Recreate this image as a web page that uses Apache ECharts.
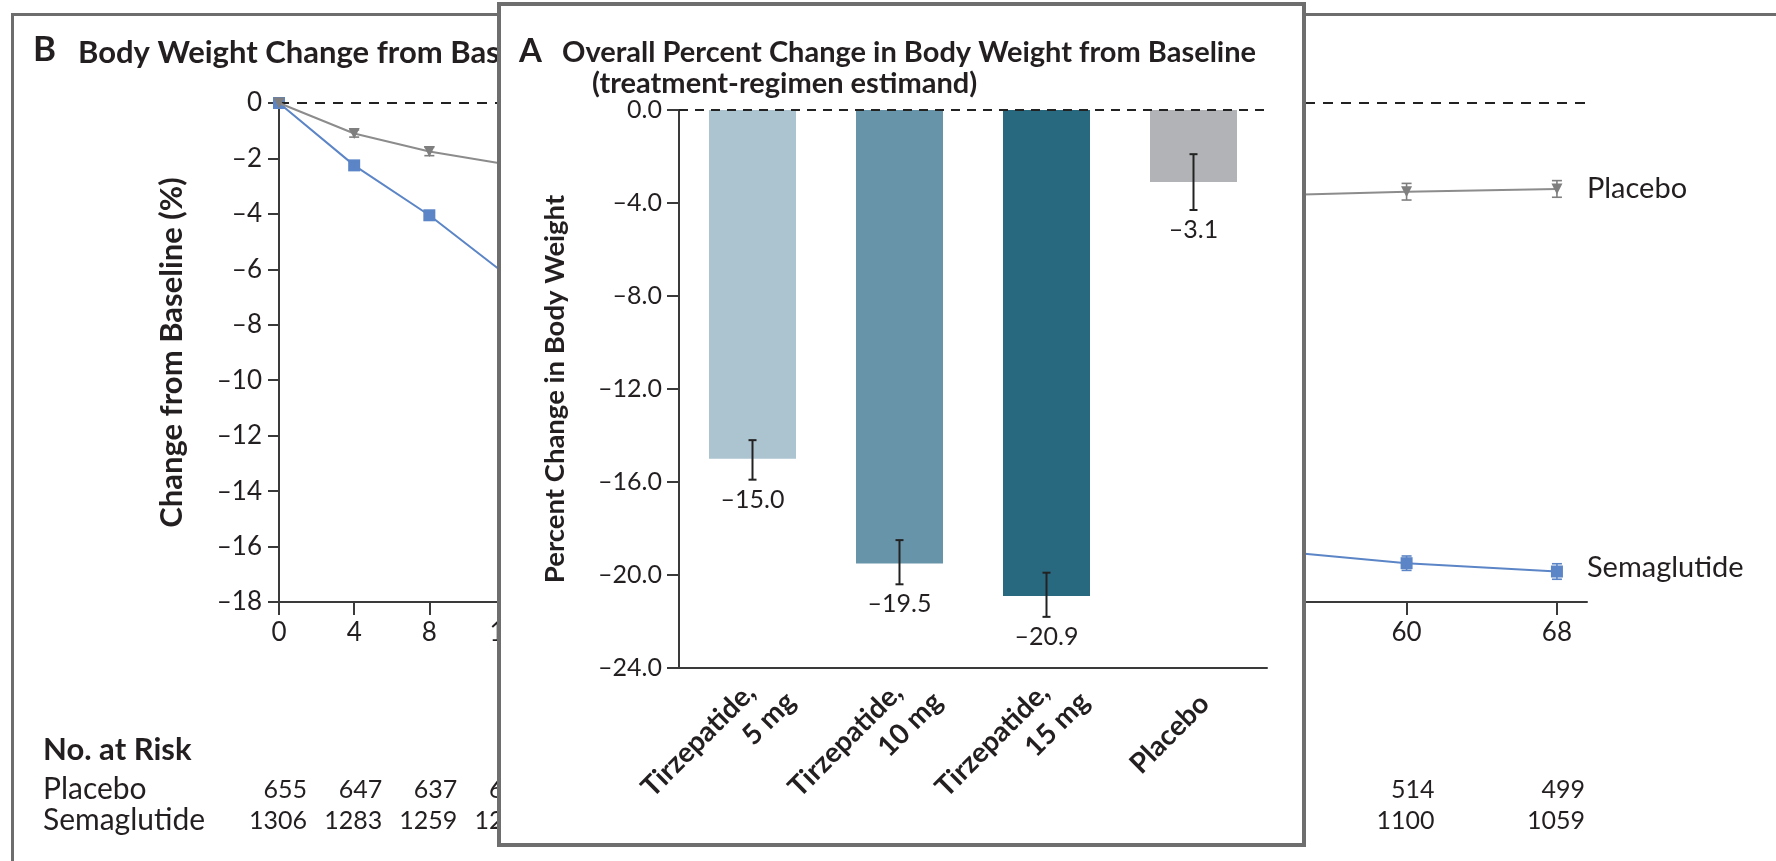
<!DOCTYPE html>
<html><head><meta charset="utf-8">
<script src="https://cdn.jsdelivr.net/npm/echarts@6/dist/echarts.min.js"></script>
<style>
html,body{margin:0;padding:0;width:1776px;height:861px;overflow:hidden;background:#fff;}
#frameB{position:absolute;left:11px;top:13px;width:2000px;height:2000px;border:3.5px solid #6d6d6d;box-sizing:border-box;}
#chartB{position:absolute;left:0;top:0;width:1776px;height:861px;}
#panelA{position:absolute;left:497px;top:2px;width:809px;height:845px;box-sizing:border-box;border:4px solid #6e6e6e;background:#fff;}
#chartA{position:absolute;left:0;top:0;width:801px;height:837px;}
</style></head><body>
<div id="frameB"></div>
<div id="chartB"></div>
<div id="panelA"><div id="chartA"></div></div>
<script>
// ---------- Panel B data ----------
const weeks = [0, 4, 8, 12, 16, 20, 28, 36, 44, 52, 60, 68];
const placeboMean = [0, -1.1, -1.75, -2.2, -2.6, -2.9, -3.15, -3.3, -3.4, -3.35, -3.2, -3.1];
const placeboErr = [0, 0.13, 0.15, 0.17, 0.19, 0.2, 0.22, 0.24, 0.26, 0.28, 0.3, 0.3];
const semaMean = [0, -2.25, -4.05, -6.15, -8.0, -9.6, -12.0, -13.9, -15.1, -16.1, -16.6, -16.9];
const semaErr = [0, 0.12, 0.13, 0.14, 0.15, 0.16, 0.18, 0.2, 0.22, 0.24, 0.26, 0.28];
const riskRows = ['Placebo', 'Semaglutide'];
const placeboRisk = [655, 647, 637, 629, 620, 611, 592, 573, 555, 536, 514, 499];
const semaRisk = [1306, 1283, 1259, 1240, 1222, 1205, 1179, 1156, 1137, 1119, 1100, 1059];

// ---------- Panel A data ----------
const groupLine1 = ['Tirzepatide,', 'Tirzepatide,', 'Tirzepatide,', 'Placebo'];
const groupLine2 = ['5 mg', '10 mg', '15 mg', ''];
const meanA = [-15.0, -19.5, -20.9, -3.1];
const ciLowA = [-15.9, -20.4, -21.8, -4.3];
const ciHighA = [-14.2, -18.5, -19.9, -1.9];

// ---------- styles ----------
const FONT = 'Lato';
const INK = '#231f20';
const AX = '#3a3a3a';
const barColors = ['#abc4d0', '#6894aa', '#286980', '#b2b3b6'];
const placeboColor = '#8c8c8c';
const semaColor = '#5b85c6';
const dash = (v) => (v < 0 ? '\u2013' + String(-v) : String(v));

// ================= Chart B =================
const chartB = echarts.init(document.getElementById('chartB'), null, {renderer: 'canvas'});

function errRender(color) {
  return function (params, api) {
    const w = api.value(0), m = api.value(1), e = api.value(2);
    if (!e) return null;
    const top = api.coord([w, m + e]);
    const bot = api.coord([w, m - e]);
    const st = {stroke: color, lineWidth: 1.6};
    return {type: 'group', children: [
      {type: 'line', shape: {x1: top[0], y1: top[1], x2: bot[0], y2: bot[1]}, style: st},
      {type: 'line', shape: {x1: top[0] - 5, y1: top[1], x2: top[0] + 5, y2: top[1]}, style: st},
      {type: 'line', shape: {x1: bot[0] - 5, y1: bot[1], x2: bot[0] + 5, y2: bot[1]}, style: st}
    ]};
  };
}

const riskData = [];
weeks.forEach((w, i) => {
  riskData.push([w, 0, placeboRisk[i]]);
  riskData.push([w, 1, semaRisk[i]]);
});

chartB.setOption({
  animation: false,
  textStyle: {fontFamily: FONT},
  graphic: [
    {type: 'text', x: 33, y: 50, style: {text: 'B', font: 'bold 35px Lato', fill: INK, verticalAlign: 'middle'}},
    {type: 'text', x: 78, y: 53, style: {text: 'Body Weight Change from Baseline', font: 'bold 31px Lato', fill: INK, verticalAlign: 'middle'}},
    {type: 'text', x: 43, y: 750, style: {text: 'No. at Risk', font: 'bold 31px Lato', fill: INK, verticalAlign: 'middle'}}
  ],
  grid: [
    {left: 279, top: 103, width: 1308, height: 499},
    {left: 279, top: 774, width: 1308, height: 62}
  ],
  xAxis: [
    {type: 'value', gridIndex: 0, min: 0, max: 69.6, splitLine: {show: false},
     axisLine: {onZero: false, lineStyle: {color: AX, width: 2}},
     axisTick: {show: true, length: 13, lineStyle: {color: AX, width: 2}, customValues: weeks},
     axisLabel: {customValues: weeks, fontSize: 26, color: INK, margin: 18, fontFamily: FONT}},
    {type: 'value', gridIndex: 1, min: 0, max: 69.6, show: false}
  ],
  yAxis: [
    {type: 'value', gridIndex: 0, min: -18, max: 0, interval: 2, splitLine: {show: false},
     name: 'Change from Baseline (%)', nameLocation: 'middle', nameGap: 92,
     nameTextStyle: {fontSize: 31, fontWeight: 'bold', color: INK, fontFamily: FONT},
     axisLine: {show: true, onZero: false, lineStyle: {color: AX, width: 2}},
     axisTick: {show: true, length: 11, lineStyle: {color: AX, width: 2}},
     axisLabel: {formatter: dash, margin: 17, fontSize: 26, color: INK, fontFamily: FONT}},
    {type: 'category', gridIndex: 1, data: riskRows, inverse: true,
     axisLine: {show: false}, axisTick: {show: false},
     axisLabel: {interval: 0, align: 'left', margin: 236, fontSize: 30, color: INK, fontFamily: FONT}}
  ],
  series: [
    {type: 'line', name: 'Semaglutide', xAxisIndex: 0, yAxisIndex: 0,
     data: weeks.map((w, i) => [w, semaMean[i]]),
     symbol: 'rect', symbolSize: 12, lineStyle: {color: semaColor, width: 2},
     itemStyle: {color: semaColor}, z: 3,
     endLabel: {show: true, formatter: 'Semaglutide', distance: 30, color: INK, fontSize: 29, fontFamily: FONT, offset: [0, -4]}},
    {type: 'custom', xAxisIndex: 0, yAxisIndex: 0, data: weeks.map((w, i) => [w, semaMean[i], semaErr[i]]),
     renderItem: errRender(semaColor), z: 4, clip: false},
    {type: 'line', name: 'Placebo', xAxisIndex: 0, yAxisIndex: 0,
     data: weeks.map((w, i) => [w, placeboMean[i]]),
     symbol: 'triangle', symbolRotate: 180, symbolSize: 11, lineStyle: {color: placeboColor, width: 2},
     itemStyle: {color: '#7f7f7f'}, z: 5,
     endLabel: {show: true, formatter: 'Placebo', distance: 30, color: INK, fontSize: 29, fontFamily: FONT},
     markLine: {silent: true, symbol: ['none', 'none'], label: {show: false},
       lineStyle: {type: [10, 8], color: '#222', width: 2}, data: [{yAxis: 0}]}},
    {type: 'custom', xAxisIndex: 0, yAxisIndex: 0, data: weeks.map((w, i) => [w, placeboMean[i], placeboErr[i]]),
     renderItem: errRender('#7f7f7f'), z: 6, clip: false},
    {type: 'custom', xAxisIndex: 1, yAxisIndex: 1, data: riskData, clip: false,
     renderItem: function (params, api) {
       const p = api.coord([api.value(0), api.value(1)]);
       return {type: 'text', x: p[0] + 28, y: p[1],
         style: {text: String(api.value(2)), font: '25px Lato', fill: INK, align: 'right', verticalAlign: 'middle'}};
     }}
  ]
});

// ================= Chart A =================
const chartA = echarts.init(document.getElementById('chartA'), null, {renderer: 'canvas'});
const catIdx = meanA.map((v, i) => i);

chartA.setOption({
  animation: false,
  textStyle: {fontFamily: FONT},
  graphic: [
    {type: 'text', x: 18, y: 45, style: {text: 'A', font: 'bold 33px Lato', fill: INK, verticalAlign: 'middle'}},
    {type: 'text', x: 61, y: 47, style: {text: 'Overall Percent Change in Body Weight from Baseline', font: 'bold 29px Lato', fill: INK, verticalAlign: 'middle'}},
    {type: 'text', x: 91, y: 78, style: {text: '(treatment-regimen estimand)', font: 'bold 29px Lato', fill: INK, verticalAlign: 'middle'}}
  ],
  grid: {left: 178, top: 104, width: 588, height: 558},
  xAxis: {type: 'category', data: groupLine1.map((t, i) => t + ' ' + groupLine2[i]),
    axisLine: {onZero: false, lineStyle: {color: AX, width: 2}}, axisTick: {show: false}, axisLabel: {show: false}},
  yAxis: {type: 'value', min: -24, max: 0, interval: 4, splitLine: {show: false},
    name: 'Percent Change in Body Weight', nameLocation: 'middle', nameGap: 110,
    nameTextStyle: {fontSize: 27.5, fontWeight: 'bold', color: INK, fontFamily: FONT},
    axisLine: {show: true, lineStyle: {color: AX, width: 2}},
    axisTick: {show: true, length: 12, lineStyle: {color: AX, width: 2}},
    axisLabel: {formatter: (v) => (v < 0 ? '\u2013' + (-v).toFixed(1) : '0.0'), margin: 17, fontSize: 25, color: INK, fontFamily: FONT}},
  series: [
    {type: 'bar', barWidth: 87, z: 2,
     data: meanA.map((v, i) => ({value: v, itemStyle: {color: barColors[i]}})),
     markLine: {silent: true, symbol: ['none', 'none'], label: {show: false},
       lineStyle: {type: [9, 7], color: '#222', width: 2}, data: [{yAxis: 0}]}},
    {type: 'custom', clip: false, z: 5,
     data: catIdx.map((i) => [i, ciLowA[i], ciHighA[i], meanA[i]]),
     renderItem: function (params, api) {
       const i = api.value(0);
       const top = api.coord([i, api.value(2)]);
       const bot = api.coord([i, api.value(1)]);
       const st = {stroke: '#222', lineWidth: 2};
       return {type: 'group', children: [
         {type: 'line', shape: {x1: top[0], y1: top[1], x2: bot[0], y2: bot[1]}, style: st},
         {type: 'line', shape: {x1: top[0] - 4, y1: top[1], x2: top[0] + 4, y2: top[1]}, style: st},
         {type: 'line', shape: {x1: bot[0] - 4, y1: bot[1], x2: bot[0] + 4, y2: bot[1]}, style: st},
         {type: 'text', x: bot[0], y: bot[1] + 20,
          style: {text: '\u2013' + (-api.value(3)).toFixed(1), font: '25px Lato', fill: INK, align: 'center', verticalAlign: 'middle'}}
       ]};
     }},
    {type: 'custom', clip: false, z: 5,
     data: catIdx.map((i) => [i, -24]),
     renderItem: function (params, api) {
       const i = params.dataIndex;
       const p = api.coord([api.value(0), api.value(1)]);
       const rot = Math.PI / 4;
       const font = 'bold 28px Lato';
       const kids = [];
       if (groupLine2[i]) {
         kids.push({type: 'text', x: p[0] - 2, y: p[1] + 20, rotation: rot,
           style: {text: groupLine1[i], font: font, fill: INK, align: 'right', verticalAlign: 'middle'}});
         kids.push({type: 'text', x: p[0] + 38, y: p[1] + 29, rotation: rot,
           style: {text: groupLine2[i], font: font, fill: INK, align: 'right', verticalAlign: 'middle'}});
       } else {
         kids.push({type: 'text', x: p[0] + 11, y: p[1] + 31, rotation: rot,
           style: {text: groupLine1[i], font: font, fill: INK, align: 'right', verticalAlign: 'middle'}});
       }
       return {type: 'group', children: kids};
     }}
  ]
});
</script>
</body></html>
